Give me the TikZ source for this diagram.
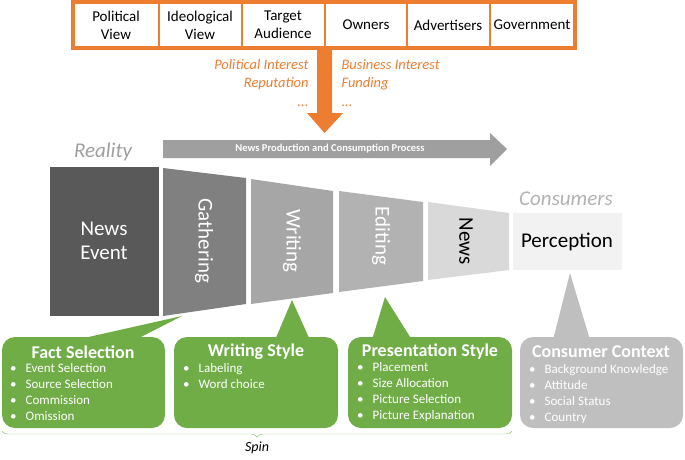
\documentclass[tikz,border=0pt]{standalone}
\usepackage{fontspec}
\setmainfont{Carlito}
\usetikzlibrary{decorations.pathreplacing}
\definecolor{org}{HTML}{ED7D31}
\definecolor{grn}{HTML}{70AD47}
\begin{document}
\begin{tikzpicture}[x=1pt,y=-1pt,
 cell/.style={minimum width=83pt,minimum height=50pt,align=center,font=\fontsize{15}{18}\selectfont,inner sep=0pt},
 itl/.style={font=\fontsize{14.5}{16}\selectfont\itshape,text=org},
 stage/.style={text=white,font=\fontsize{21}{24}\selectfont},
 box/.style={rounded corners=13pt,fill=grn},
 ttl/.style={text=white,font=\fontsize{18}{20}\selectfont\bfseries,inner sep=1pt},
 itm/.style={text=white,align=left,font=\fontsize{13}{16}\selectfont,anchor=north west,inner sep=1pt}]
\useasboundingbox (0,0) rectangle (685,459);
% top box
\draw[org,line width=4pt,fill=white] (73,2) rectangle (575,48);
\foreach \x in {159,242,325,407,490}{\draw[org,line width=2.5pt] (\x,2)--(\x,48);}
\node[cell] (pv) at (116,25) {Political\\View};
\node[cell] (iv) at (200,25) {Ideological\\View};
\node[cell] (ta) at (283,25) {Target\\Audience};
\node[cell] (ow) at (366,25) {Owners};
\node[cell] (ad) at (448,25) {Advertisers};
\node[cell] (gv) at (532,25) {Government};
\fill[org] (317,50) -- (332,50) -- (332,113) -- (343,113) -- (324.5,133) -- (307,113) -- (317,113) -- cycle;
\node[itl,anchor=east] (l1) at (312,65) {Political Interest};
\node[itl,anchor=east] (l2) at (312,84) {Reputation};
\node[itl,anchor=east] (l3) at (312,106) {...};
\node[itl,anchor=west] (r1) at (338,65) {Business Interest};
\node[itl,anchor=west] (r2) at (338,84) {Funding};
\node[itl,anchor=west] (r3) at (338,106) {...};
% process arrow
\fill[gray!75] (163,140) -- (490,140) -- (490,133) -- (507,149) -- (490,166) -- (490,158) -- (163,158) -- cycle;
\node[text=white,font=\fontsize{10.5}{11}\selectfont\bfseries] (pp) at (330,149) {News Production and Consumption Process};
\node[font=\fontsize{21}{24}\selectfont\itshape,text=gray!75] (re) at (103,152) {Reality};
\node[font=\fontsize{21}{24}\selectfont\itshape,text=gray!60] (co) at (566,199) {Consumers};
% funnel
\fill[black!65] (50,167) rectangle (159,316);
\fill[black!50] (163,168) -- (246,178) -- (246,304) -- (163,316) -- cycle;
\fill[black!35] (251,179) -- (333,191) -- (333,293) -- (251,304) -- cycle;
\fill[black!30] (339,191) -- (423,202) -- (423,281) -- (339,292) -- cycle;
\fill[black!15] (428,202) -- (509,213) -- (509,270) -- (428,280) -- cycle;
\fill[black!5] (513,213) rectangle (622,270);
\node[stage,align=center] (ne) at (104,241) {News\\Event};
\node[stage,rotate=-90] (ga) at (204,241) {Gathering};
\node[stage,rotate=-90] (wr) at (292,241) {Writing};
\node[stage,rotate=-90] (ed) at (381,236) {Editing};
\node[stage,rotate=-90,text=black] (nw) at (466,241) {News};
\node[font=\fontsize{21}{24}\selectfont] (pe) at (567,242) {Perception};
% callouts
\fill[grn] (75,340) -- (182,316) -- (135,340) -- cycle;
\fill[grn] (275,340) -- (292,300) -- (310,340) -- cycle;
\fill[grn] (372,340) -- (385,297) -- (412,340) -- cycle;
\fill[black!25] (553,340) -- (570,273) -- (590,340) -- cycle;
\fill[box] (2,337) rectangle (165,428);
\fill[box] (174,337) rectangle (338,428);
\fill[box] (348,337) rectangle (512,428);
\fill[box,fill=black!25] (520,337) rectangle (683,428);
\node[ttl] (t1) at (83,352) {Fact Selection};
\node[ttl] (t2) at (256,352) {Writing Style};
\node[ttl] (t3) at (430,352) {Presentation Style};
\node[ttl] (t4) at (601,352) {Consumer Context};
\node[itm] (i1) at (9,362) {•\hspace{9pt}Event Selection\\•\hspace{9pt}Source Selection\\•\hspace{9pt}Commission\\•\hspace{9pt}Omission};
\node[itm] (i2) at (182,362) {•\hspace{9pt}Labeling\\•\hspace{9pt}Word choice};
\node[itm] (i3) at (356,361) {•\hspace{9pt}Placement\\•\hspace{9pt}Size Allocation\\•\hspace{9pt}Picture Selection\\•\hspace{9pt}Picture Explanation};
\node[itm] (i4) at (528,363) {•\hspace{9pt}Background Knowledge\\•\hspace{9pt}Attitude\\•\hspace{9pt}Social Status\\•\hspace{9pt}Country};
\draw[grn!80,decorate,decoration={brace,mirror,amplitude=6pt}] (2,431) -- (512,431);
\node[font=\fontsize{14}{15}\selectfont\itshape] (sp) at (257,448) {Spin};
\end{tikzpicture}
\end{document}
